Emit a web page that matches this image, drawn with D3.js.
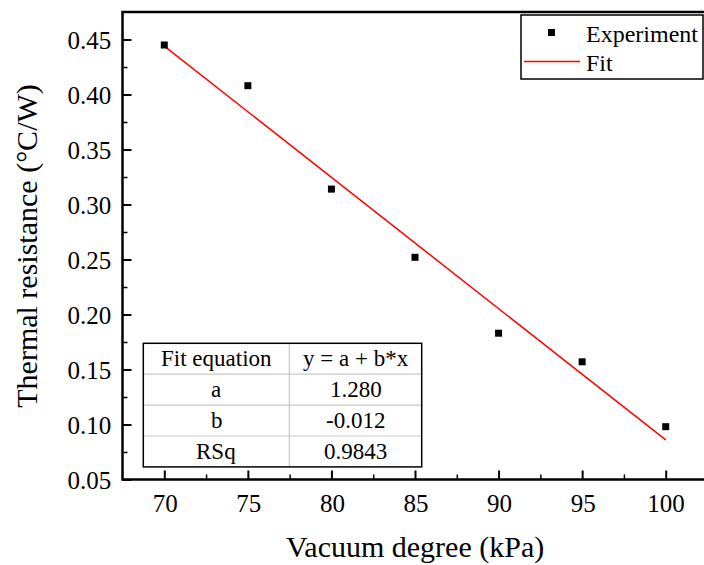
<!DOCTYPE html>
<html>
<head>
<meta charset="utf-8">
<script src="https://cdn.jsdelivr.net/npm/d3@7"></script>
</head>
<body style="margin:0; background:#fff;">
<div id="chart-area"></div>
<script>
// data
var vacuum = [70, 75, 80, 85, 90, 95, 100];
var resistance = [0.445, 0.408, 0.314, 0.252, 0.183, 0.157, 0.098];
var fitX = [70, 100];
var fitY = [0.444, 0.086];
var xTicks = [70, 75, 80, 85, 90, 95, 100];
var yTicks = [0.05, 0.10, 0.15, 0.20, 0.25, 0.30, 0.35, 0.40, 0.45];
var tableLabels = ["Fit equation", "a", "b", "RSq"];
var tableValues = ["y = a + b*x", "1.280", "-0.012", "0.9843"];

var serif = "'Liberation Serif', 'Times New Roman', serif";

//variable setting
var margin = {left:122.5, top:12},
	width = 585,
	height = 467.5;

var svg = d3.select("#chart-area")
	.append("svg")
		.attr("width", 704)
		.attr("height", 565)
		.style("font-family", serif);

var g = svg.append("g")
	.attr("transform", "translate(" + margin.left + ", " + margin.top + ")");

//place text left-anchored, shifted by its own width (k=0.5 middle, k=1 end)
function place(sel, k) {
	sel.each(function() {
		var t = d3.select(this);
		var x0 = +t.attr("x") || 0;
		t.attr("text-anchor", null).style("font-family", serif);
		t.attr("x", Math.round(x0 - k * this.getComputedTextLength()));
	});
}

//helper to clean up axis look
function styleAxis(sel, w) {
	sel.attr("font-family", null).attr("font-size", null).attr("text-anchor", null).attr("fill", null);
	sel.select(".domain").remove();
	sel.selectAll(".tick line").attr("stroke", "#000").attr("stroke-width", w);
	sel.selectAll(".tick text").attr("fill", null).style("font-family", serif).attr("font-size", 25);
}

//scales
var x = d3.scaleLinear().domain([67.5, 102.5]).range([0, width]);
var y = d3.scaleLinear().domain([0.05, 0.475]).range([height, 0]);

//minor ticks (inward)
g.append("g")
	.attr("transform", "translate(0," + height + ")")
	.call(d3.axisBottom(x).tickValues(d3.range(72.5, 100, 5)).tickSize(-5).tickFormat(""))
	.call(styleAxis, 1.5);
g.append("g")
	.call(d3.axisLeft(y).tickValues(d3.range(0.075, 0.47, 0.05)).tickSize(-5).tickFormat(""))
	.call(styleAxis, 1.5);

//major axes
var xAxis = g.append("g")
	.attr("transform", "translate(0," + height + ")")
	.call(d3.axisBottom(x).tickValues(xTicks).tickSizeInner(-9).tickSizeOuter(0))
	.call(styleAxis, 2);
xAxis.selectAll("text")
	.attr("x", 0)
	.attr("y", 32)
	.attr("dy", null)
	.call(place, 0.5);

var yAxis = g.append("g")
	.call(d3.axisLeft(y).tickValues(yTicks).tickSizeInner(-9).tickSizeOuter(0).tickFormat(d3.format(".2f")))
	.call(styleAxis, 2);
yAxis.selectAll("text")
	.attr("x", -11)
	.attr("y", 8.5)
	.attr("dy", null)
	.call(place, 1);

//frame
g.append("rect")
	.attr("width", width)
	.attr("height", height)
	.attr("fill", "none")
	.attr("stroke", "#000")
	.attr("stroke-width", 2.5);

//fit line
g.append("path")
	.attr("fill", "none")
	.attr("stroke", "#ff0000")
	.attr("stroke-width", 1.5)
	.attr("d", d3.line().x(d => x(d[0])).y(d => y(d[1]))(d3.zip(fitX, fitY)));

//experiment points
g.selectAll(".pt")
	.data(d3.zip(vacuum, resistance))
	.enter().append("rect")
		.attr("class", "pt")
		.attr("x", d => x(d[0]) - 3.5)
		.attr("y", d => y(d[1]) - 3.5)
		.attr("width", 7)
		.attr("height", 7)
		.attr("fill", "#000");

//axis titles
svg.append("text")
	.attr("x", 415.5)
	.attr("y", 557)
	.attr("font-size", 30)
	.text("Vacuum degree (kPa)")
	.call(place, 0.5);
svg.append("text")
	.attr("transform", "translate(37," + (margin.top + height / 2) + ") rotate(-90)")
	.attr("x", 0)
	.attr("font-size", 30)
	.text("Thermal resistance (°C/W)")
	.call(place, 0.5);

//legend
var legend = svg.append("g");
legend.append("rect")
	.attr("x", 521).attr("y", 15)
	.attr("width", 182).attr("height", 64)
	.attr("fill", "#fff")
	.attr("stroke", "#000")
	.attr("stroke-width", 1.5);
legend.append("rect")
	.attr("x", 548).attr("y", 29)
	.attr("width", 7).attr("height", 7)
	.attr("fill", "#000");
legend.append("text")
	.attr("x", 586).attr("y", 41.5)
	.attr("font-size", 24)
	.style("font-family", serif)
	.text("Experiment");
legend.append("line")
	.attr("x1", 524).attr("x2", 580)
	.attr("y1", 61.5).attr("y2", 61.5)
	.attr("stroke", "#ff0000")
	.attr("stroke-width", 1.5);
legend.append("text")
	.attr("x", 586).attr("y", 71)
	.attr("font-size", 24)
	.style("font-family", serif)
	.text("Fit");

/**********fit table**********/
var tbl = {x0:143.3, x1:289.3, x2:421.7, top:343.3, rowH:30.9};
var table = svg.append("g");
table.append("rect")
	.attr("x", tbl.x0).attr("y", tbl.top)
	.attr("width", tbl.x2 - tbl.x0)
	.attr("height", tbl.rowH * tableLabels.length)
	.attr("fill", "#fff");
//inner grid
table.selectAll(".hline")
	.data(d3.range(1, tableLabels.length))
	.enter().append("line")
		.attr("x1", tbl.x0).attr("x2", tbl.x2)
		.attr("y1", i => tbl.top + i * tbl.rowH)
		.attr("y2", i => tbl.top + i * tbl.rowH)
		.attr("stroke", "#c8c8c8")
		.attr("stroke-width", 1.2);
table.append("line")
	.attr("x1", tbl.x1).attr("x2", tbl.x1)
	.attr("y1", tbl.top).attr("y2", tbl.top + tbl.rowH * tableLabels.length)
	.attr("stroke", "#c8c8c8")
	.attr("stroke-width", 1.2);
table.append("rect")
	.attr("x", tbl.x0).attr("y", tbl.top)
	.attr("width", tbl.x2 - tbl.x0)
	.attr("height", tbl.rowH * tableLabels.length)
	.attr("fill", "none")
	.attr("stroke", "#000")
	.attr("stroke-width", 1.5);
table.selectAll(".lbl")
	.data(tableLabels)
	.enter().append("text")
		.attr("x", (tbl.x0 + tbl.x1) / 2)
		.attr("y", (d, i) => Math.round(tbl.top + (i + 0.5) * tbl.rowH + 7.5))
		.attr("font-size", 23)
		.text(d => d)
		.call(place, 0.5);
table.selectAll(".val")
	.data(tableValues)
	.enter().append("text")
		.attr("x", (tbl.x1 + tbl.x2) / 2)
		.attr("y", (d, i) => Math.round(tbl.top + (i + 0.5) * tbl.rowH + 7.5))
		.attr("font-size", 23)
		.text(d => d)
		.call(place, 0.5);
/**********fit table**********/
</script>
</body>
</html>
